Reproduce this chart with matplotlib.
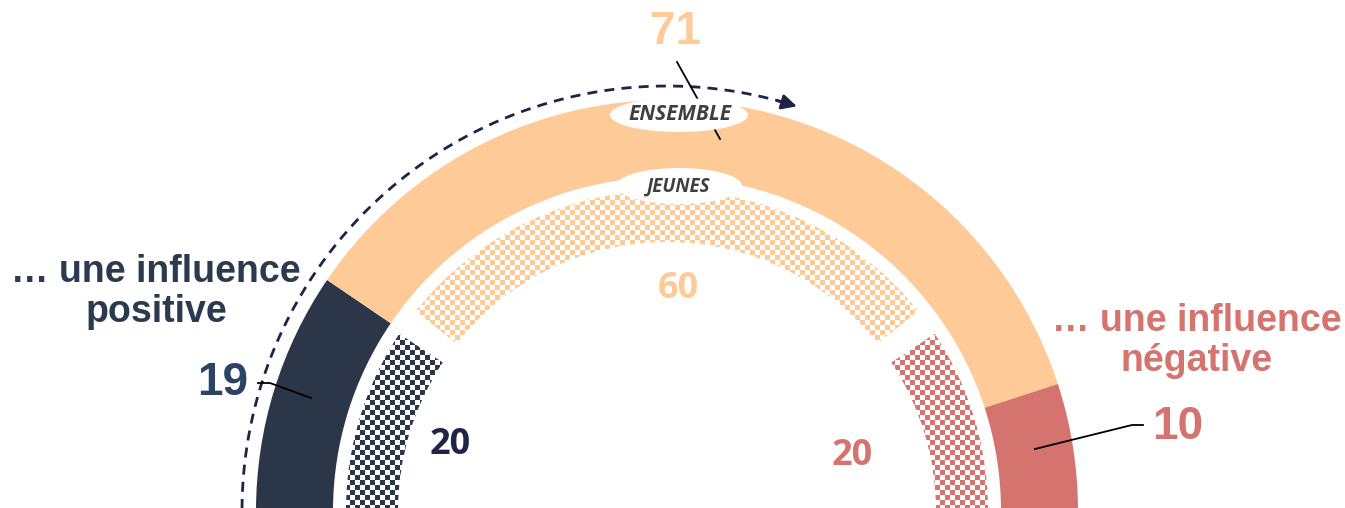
import numpy as np
import matplotlib
matplotlib.use("Agg")
import matplotlib.pyplot as plt
from matplotlib.patches import Wedge, Ellipse
from matplotlib.colors import to_rgb

# ---------------- data ----------------
categories = ["positive", "neutre", "négative"]
ensemble_values = [19, 71, 10]
jeunes_values = [20, 60, 20]
ring_labels = ["ENSEMBLE", "JEUNES"]
side_labels = ["… une influence\npositive", "… une influence\nnégative"]

# ---------------- style ----------------
outer_colors = ["#2B3748", "#FECA98", "#D5736E"]
inner_colors = ["#2B3748", "#FECA98", "#D5736E"]
label_colors = ["#2A4466", "#FECA98", "#D5736E"]
inner_label_colors = ["#1F2346", "#FECA98", "#D5736E"]
side_colors = ["#2B3A4E", "#D5736E"]

W, H = 1345, 508
CX, CY = 667, 511          # centre of the gauge (pixel coords)

def P(xp, yp):
    return (xp - CX, CY - yp)

fig = plt.figure(figsize=(W / 100, H / 100), dpi=100)
ax = fig.add_axes([0, 0, 1, 1])
ax.set_aspect("equal")
ax.axis("off")
EXT = (-CX, W - CX, CY - H, CY)

# ---------------- outer ring (ensemble) ----------------
R_OUT, W_OUT = 411, 77
start = 180.0
for v, c in zip(ensemble_values, outer_colors):
    span = v / sum(ensemble_values) * 180.0
    ax.add_patch(Wedge((0, 0), R_OUT, start - span, start, width=W_OUT,
                       facecolor=c, edgecolor="none", zorder=1))
    start -= span

# ---------------- inner ring (jeunes), checkerboard ----------------
R_IN, W_IN = 321, 52
PAD = 2.5
cell = 5
yy, xx = np.mgrid[0:H, 0:W]
mask = ((xx // cell + yy // cell) % 2 == 0).astype(float)

start = 180.0
n = len(jeunes_values)
for i, (v, c) in enumerate(zip(jeunes_values, inner_colors)):
    span = v / sum(jeunes_values) * 180.0
    a1 = start - span + (PAD if i < n - 1 else 0)
    a2 = start - (PAD if i > 0 else 0)
    wd = Wedge((0, 0), R_IN, a1, a2, width=W_IN, facecolor="none",
               edgecolor="none", zorder=2)
    ax.add_patch(wd)
    img = np.zeros((H, W, 4))
    img[..., :3] = to_rgb(c)
    img[..., 3] = mask
    im = ax.imshow(img, extent=EXT, origin="upper", interpolation="nearest",
                   zorder=2)
    im.set_clip_path(wd)
    start -= span

# ---------------- dashed arrow arc ----------------
R_D = 425
th = np.radians(np.linspace(181, 74, 300))
ax.plot(R_D * np.cos(th), R_D * np.sin(th), color="#1F2346", lw=2.0,
        dashes=(3.6, 2.6), zorder=3, solid_capstyle="butt")
t1, t2 = np.radians(75), np.radians(72.2)
ax.annotate("", xy=(R_D * np.cos(t2), R_D * np.sin(t2)),
            xytext=(R_D * np.cos(t1), R_D * np.sin(t1)),
            arrowprops=dict(arrowstyle="-|>,head_length=0.9,head_width=0.45",
                            color="#1F2346", lw=2.0, shrinkA=0, shrinkB=0),
            zorder=3)

# ---------------- leader lines ----------------
ax.plot(*zip(P(677, 62), P(720, 139)), color="black", lw=1.3, zorder=4)
ax.plot(*zip(P(258, 383), P(270, 383), P(311, 398)), color="black", lw=1.3, zorder=4)
ax.plot(*zip(P(1035, 449), P(1132, 425), P(1143, 425)), color="black", lw=1.3, zorder=4)

# ---------------- ring label bubbles ----------------
ax.add_patch(Ellipse(P(679, 115), 138, 34, facecolor="white", edgecolor="none", zorder=5))
ax.add_patch(Ellipse(P(679, 186), 126, 36, facecolor="white", edgecolor="none", zorder=5))
ax.text(*P(680, 115), ring_labels[0], ha="center", va="center", fontsize=15,
        family="Open Sans", style="italic", weight="bold", color="#3F3F3F", zorder=6)
ax.text(*P(679, 187), ring_labels[1], ha="center", va="center", fontsize=13.5,
        family="Open Sans", style="italic", weight="bold", color="#3F3F3F", zorder=6)

# ---------------- value labels ----------------
big = dict(family="Liberation Sans", weight="bold", fontsize=33, ha="center",
           va="center", zorder=6)
ax.text(*P(223, 383), str(ensemble_values[0]), color=label_colors[0], **big)
ax.text(*P(676, 32), str(ensemble_values[1]), color=label_colors[1], **big)
ax.text(*P(1178, 427), str(ensemble_values[2]), color=label_colors[2], **big)

small = dict(family="Open Sans", weight="bold", fontsize=26, ha="center",
             va="center", zorder=6)
ax.text(*P(450, 445), str(jeunes_values[0]), color=inner_label_colors[0], **small)
ax.text(*P(678, 289), str(jeunes_values[1]), color=inner_label_colors[1], **small)
ax.text(*P(852, 456), str(jeunes_values[2]), color=inner_label_colors[2], **small)

# ---------------- side labels ----------------
side = dict(family="Liberation Sans", weight="bold", fontsize=27, ha="center",
            va="center", linespacing=1.17, zorder=6)
ax.text(*P(156, 292), side_labels[0], color=side_colors[0], **side)
ax.text(*P(1197, 341), side_labels[1], color=side_colors[1], **side)

ax.set_xlim(EXT[0], EXT[1])
ax.set_ylim(EXT[2], EXT[3])
fig.savefig("out.png", dpi=100)
